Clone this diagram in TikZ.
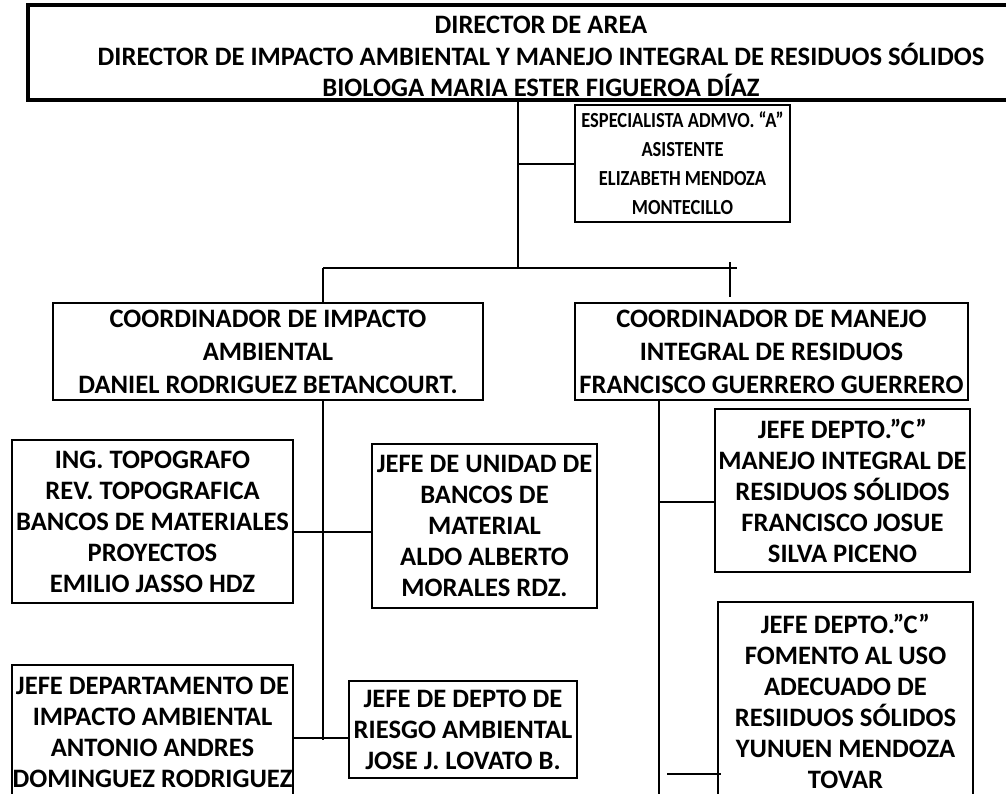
\documentclass[tikz,border=0pt]{standalone}
\usepackage{fontspec}
\setmainfont{Carlito}
\newfontfamily\narrowfont[FakeStretch=0.86]{Carlito}
\begin{document}
\begin{tikzpicture}[x=1pt,y=-1pt,
  box/.style={draw=black,line width=2pt,inner sep=0pt,align=center,
    font=\bfseries\fontsize{26.6}{31}\selectfont},
  conn/.style={line width=2pt}]
\useasboundingbox (0,0) rectangle (1006,793);
\clip (0,0) rectangle (1006,793);
\fill[white] (0,0) rectangle (1006,793);
\node[box,line width=3.5pt,font=\bfseries\fontsize{26.6}{30.5}\selectfont,minimum width=1026pt,minimum height=95pt] (top) at (541,52.5)
  {\raisebox{-6.5pt}[\height][\depth]{\begin{tabular}{@{}c@{}}DIRECTOR DE AREA\\DIRECTOR DE IMPACTO AMBIENTAL Y MANEJO INTEGRAL DE RESIDUOS SÓLIDOS\\BIOLOGA MARIA ESTER FIGUEROA DÍAZ\end{tabular}}};
\node[box,font=\narrowfont\bfseries\fontsize{21.5}{29}\selectfont,minimum width=215pt,minimum height=117pt] (spec) at (682.5,163.5)
  {ESPECIALISTA ADMVO. “A”\\ASISTENTE\\ELIZABETH MENDOZA\\MONTECILLO};
\node[box,font=\bfseries\fontsize{26.6}{33}\selectfont,minimum width=430pt,minimum height=97pt] (c1) at (268,351.5)
  {COORDINADOR DE IMPACTO\\AMBIENTAL\\DANIEL RODRIGUEZ BETANCOURT.};
\node[box,font=\bfseries\fontsize{26.6}{33}\selectfont,minimum width=393pt,minimum height=97pt] (c2) at (771.5,351.5)
  {COORDINADOR DE MANEJO\\INTEGRAL DE RESIDUOS\\FRANCISCO GUERRERO GUERRERO};
\node[box,minimum width=281pt,minimum height=163pt] (ing) at (152.5,521.5)
  {ING. TOPOGRAFO\\REV. TOPOGRAFICA\\BANCOS DE MATERIALES\\PROYECTOS\\EMILIO JASSO HDZ};
\node[box,minimum width=225pt,minimum height=164pt] (uni) at (484.5,526)
  {JEFE DE UNIDAD DE\\BANCOS DE\\MATERIAL\\ALDO ALBERTO\\MORALES RDZ.};
\node[box,minimum width=255pt,minimum height=163pt] (dc1) at (842.5,490.5)
  {JEFE DEPTO.”C”\\MANEJO INTEGRAL DE\\RESIDUOS SÓLIDOS\\FRANCISCO JOSUE\\SILVA PICENO};
\node[box,minimum width=255pt,minimum height=198pt] (dc2) at (845.5,701)
  {JEFE DEPTO.”C”\\FOMENTO AL USO\\ADECUADO DE\\RESIIDUOS SÓLIDOS\\YUNUEN MENDOZA\\TOVAR};
\node[box,minimum width=281pt,minimum height=135pt] (jd) at (152.5,732.5)
  {JEFE DEPARTAMENTO DE\\IMPACTO AMBIENTAL\\ANTONIO ANDRES\\DOMINGUEZ RODRIGUEZ};
\node[box,minimum width=228pt,minimum height=97pt] (rs) at (463,729.5)
  {JEFE DE DEPTO DE\\RIESGO AMBIENTAL\\JOSE J. LOVATO B.};
% connectors
\coordinate (j1) at (518,268);
\coordinate (h1) at (323,268);
\coordinate (h2) at (737,268);
\coordinate (t1) at (730,262);
\coordinate (t2) at (730,297);
\coordinate (e1) at (323,740);
\coordinate (m1) at (323,532);
\coordinate (m2) at (323,738);
\coordinate (v2) at (659,800);
\coordinate (m3) at (659,502);
\coordinate (m4) at (667,774);
\draw[conn] (top.south -| j1) -- (j1);
\draw[conn] (j1 |- spec.west) -- (spec.west);
\draw[conn] (h1) -- (h2);
\draw[conn] (h1) -- (h1 |- c1.north);
\draw[conn] (t1) -- (t2);
\draw[conn] (c1.south -| h1) -- (e1);
\draw[conn] (m1 -| ing.east) -- (m1 -| uni.west);
\draw[conn] (m2 -| jd.east) -- (m2 -| rs.west);
\draw[conn] (c2.south -| v2) -- (v2);
\draw[conn] (m3) -- (m3 -| dc1.west);
\draw[conn] (m4) -- ([xshift=4pt]m4 -| dc2.west);
\end{tikzpicture}
\end{document}
